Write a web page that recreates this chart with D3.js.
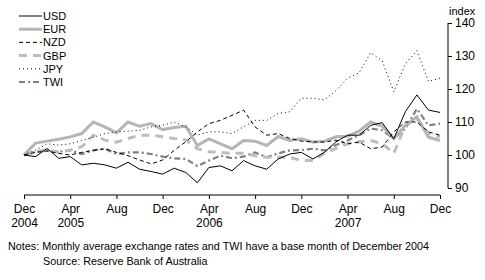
<!DOCTYPE html>
<html><head><meta charset="utf-8">
<script src="https://cdn.jsdelivr.net/npm/d3@7"></script>
<style>
body{margin:0;background:#fff;}
svg text{font-family:"Liberation Sans",Arial,sans-serif;fill:#000;}
</style></head>
<body><svg id="c" width="485" height="280"></svg>
<script>
// Monthly index, Dec 2004 = 100 (37 months, Dec 2004 .. Dec 2007)
const startMonth = "2004-12";
const usd = [100,99.5,102,99,99.5,97,97.5,97,96,97.8,95.7,95,94.2,96,94.7,91.6,96.2,96.7,95.2,98.3,96.7,95.7,98.8,100.3,100.8,98.8,100.8,104,106,106,109,109.8,104.9,113.1,118.2,113.6,112.9];
const eur = [100,103.6,104.2,104.8,105.5,106.5,110,108.5,106.7,110,108.7,109.5,107.7,108.3,108.7,102.9,104.9,103.4,101.9,104.4,104.2,102.9,105.6,104.4,104.9,103.9,104.2,105.5,105.7,107.2,110,108.8,104.9,109,111.6,105.4,104.4];
const nzd = [100,100.8,101.2,100.5,100,100.8,101.4,101.9,100.8,99.8,98.5,97.3,98.5,101.4,104,107,109.5,110.5,112,113.6,108.5,106,106.5,105,104.2,104,103.9,104.5,103.4,103.9,101.9,102.4,107,110,110,107,106];
const gbp = [100,101,101.6,100.8,101.5,102.5,106,104.5,103.9,105,106,106,105.5,105,104.6,101.9,101,100.8,100.5,100.5,99.8,99.3,99.3,99.3,98.3,98.3,100.5,102,103.4,104,104.4,103.5,100.5,109,111,106.5,105.5];
const jpy = [100,101.5,103.4,103,103.4,104.4,105.4,106.5,107,107.2,107.5,108.5,109,110,108.5,106,107,107,106.5,108.5,110.5,110.5,112.6,113.1,117.2,117.2,116.7,119.5,123.3,124.9,131,128.5,119.2,127.6,131.6,122.3,123.3];
const twi = [100,101,101.4,101,101.4,100.3,101.4,101.9,100.3,100.8,100.8,100.3,99.5,99,98.8,96.7,98.3,99.8,99,99.5,100.8,99.3,100.5,101.4,101.5,101.9,101.4,103,104.4,106,108,107.5,105,108,114,109,109.5];
const seriesNames = ["USD","EUR","NZD","GBP","JPY","TWI"];
const yTicks = [90,100,110,120,130,140];
const xTickMonths = ["2004-12","2005-04","2005-08","2005-12","2006-04","2006-08","2006-12","2007-04","2007-08","2007-12"];
const xTickTop = ["Dec","Apr","Aug","Dec","Apr","Aug","Dec","Apr","Aug","Dec"];
const xTickYear = ["2004","2005","","","2006","","","2007","",""];
const yLabel = "index";
const notes = "Notes: Monthly average exchange rates and TWI have a base month of December 2004";
const source = "Source: Reserve Bank of Australia";

const parse = d3.timeParse("%Y-%m");
const t0 = parse(startMonth);
const values = {USD:usd,EUR:eur,NZD:nzd,GBP:gbp,JPY:jpy,TWI:twi};
const styles = {
  USD:{stroke:"#000",w:1,dash:null},
  EUR:{stroke:"#b5b5b5",w:3,dash:null},
  NZD:{stroke:"#000",w:1,dash:"4,3"},
  GBP:{stroke:"#bdbdbd",w:3,dash:"8,6"},
  JPY:{stroke:"#000",w:1,dash:"1,3"},
  TWI:{stroke:"#808080",w:2.2,dash:"6,3,2,3"}
};

const svg = d3.select("#c");
const xi = d3.scaleLinear().domain([0,usd.length-1]).range([24,440]);
const y = d3.scaleLinear().domain([90,140]).range([188,23]);

// right axis
const ya = d3.axisRight(y).tickValues(yTicks).tickSize(4).tickPadding(3).tickFormat(d3.format("d"));
const gy = svg.append("g").attr("transform","translate(448,0)").call(ya);
gy.select(".domain").attr("d","M0,"+y(140)+"V"+y(90)).attr("stroke","#000");
gy.selectAll("text").attr("font-size","12px").attr("fill","#000");
svg.append("text").attr("x",449).attr("y",15).attr("font-size","11px").text(yLabel);

// bottom axis
const xa = d3.axisBottom(xi).tickValues(xTickMonths.map(m=>d3.timeMonth.count(t0,parse(m)))).tickSize(4).tickFormat("");
const gx = svg.append("g").attr("transform","translate(0,195)").call(xa);
gx.select(".domain").attr("d","M24,0H440").attr("stroke","#000");
gx.selectAll(".tick").each(function(d,i){
  const t = d3.select(this).append("text").attr("text-anchor","middle").attr("font-size","12px").attr("fill","#000");
  t.append("tspan").attr("x",0).attr("y",18).text(xTickTop[i]);
  if(xTickYear[i]) t.append("tspan").attr("x",0).attr("y",32).text(xTickYear[i]);
});

// lines
const line = d3.line().x((d,i)=>xi(i)).y(d=>y(d));
const order = ["TWI","GBP","EUR","JPY","NZD","USD"];
order.forEach(n=>{
  const s = styles[n];
  svg.append("path").datum(values[n]).attr("d",line).attr("fill","none")
    .attr("stroke",s.stroke).attr("stroke-width",s.w).attr("stroke-dasharray",s.dash);
});

// legend
seriesNames.forEach((n,i)=>{
  const s = styles[n];
  const yy = 16 + i*13.2;
  svg.append("line").attr("x1",19).attr("x2",42).attr("y1",yy).attr("y2",yy)
    .attr("stroke",s.stroke).attr("stroke-width",s.w).attr("stroke-dasharray",s.dash);
  svg.append("text").attr("x",43).attr("y",yy+4).attr("font-size","11px").text(n);
});

// notes
svg.append("text").attr("x",8).attr("y",250).attr("font-size","10.8px").text(notes);
svg.append("text").attr("x",43).attr("y",265).attr("font-size","10.8px").text(source);
</script></body></html>
